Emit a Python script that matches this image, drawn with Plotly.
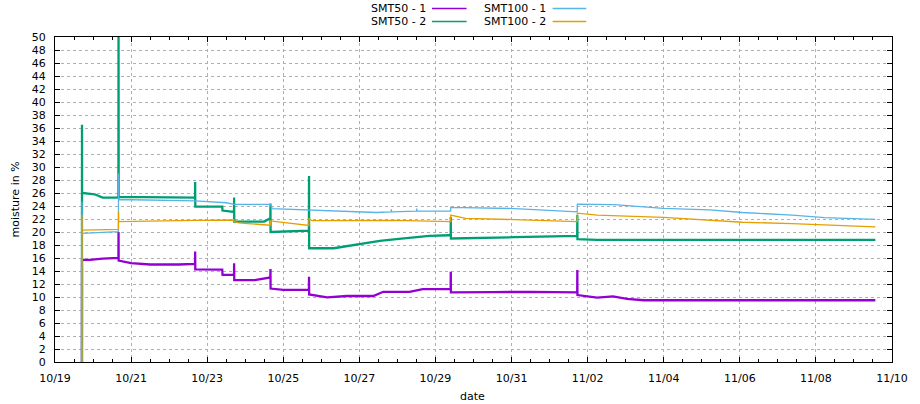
import plotly.graph_objects as go

Y = "2019-"

# SMT50 - 1 (purple)
smt50_1_t = ["10-19 17:00", "10-19 17:02", "10-19 22:00", "10-20 06:00", "10-20 16:00", "10-20 16:05", "10-20 16:10",
             "10-21 00:00", "10-21 12:00", "10-22 06:00", "10-22 16:20", "10-22 16:25", "10-22 16:30", "10-23 09:30",
             "10-23 09:40", "10-23 16:55", "10-23 17:00", "10-23 17:05", "10-24 06:00", "10-24 15:50", "10-24 15:55",
             "10-24 16:00", "10-25 00:00", "10-25 16:10", "10-25 16:15", "10-25 16:20", "10-26 03:40", "10-26 16:10",
             "10-27 08:50", "10-27 15:00", "10-28 07:40", "10-28 16:00", "10-29 09:35", "10-29 09:40", "10-29 09:45",
             "10-30 12:00", "10-31 12:00", "11-01 17:25", "11-01 17:30", "11-01 17:35", "11-02 06:00", "11-02 16:00",
             "11-03 00:50", "11-03 11:30", "11-09 13:30"]
smt50_1_v = [0, 15.7, 15.7, 15.9, 16.0, 20.0, 15.6,
             15.2, 15.0, 15.0, 15.1, 17.0, 14.25, 14.2,
             13.4, 13.4, 15.2, 12.6, 12.6, 13.0, 14.3,
             11.3, 11.1, 11.1, 13.1, 10.4, 9.95, 10.15,
             10.15, 10.8, 10.8, 11.2, 11.2, 13.9, 10.7,
             10.75, 10.8, 10.7, 14.15, 10.3, 9.9, 10.1,
             9.7, 9.5, 9.5]

# SMT50 - 2 (green)
smt50_2_t = ["10-19 17:00", "10-19 17:02", "10-19 17:05", "10-20 01:00", "10-20 06:00", "10-20 16:00", "10-20 16:05",
             "10-20 16:10", "10-22 16:20", "10-22 16:25", "10-22 16:30", "10-23 09:30", "10-23 09:40", "10-23 16:55",
             "10-23 17:00", "10-23 17:05", "10-24 12:00", "10-24 15:50", "10-24 15:55", "10-24 16:00", "10-25 16:10",
             "10-25 16:15", "10-25 16:20", "10-26 07:50", "10-26 16:10", "10-27 02:35", "10-27 12:55", "10-27 23:20",
             "10-28 20:10", "10-29 08:40", "10-29 09:35", "10-29 09:40", "10-29 09:45", "10-31 02:00", "11-01 17:25",
             "11-01 17:30", "11-01 17:35", "11-02 06:00", "11-09 13:30"]
smt50_2_v = [0, 36.5, 26.0, 25.8, 25.3, 25.3, 52,
             25.4, 25.3, 27.7, 23.9, 23.9, 23.3, 23.1,
             25.3, 21.6, 21.6, 22.1, 24.4, 20.0, 20.2,
             28.6, 17.5, 17.5, 17.85, 18.25, 18.65, 18.9,
             19.4, 19.5, 19.5, 22.3, 19.0, 19.2, 19.4,
             22.6, 18.9, 18.8, 18.8]

# SMT100 - 1 (blue)
smt100_1_t = ["10-19 17:00", "10-19 17:02", "10-19 17:05", "10-20 16:00", "10-20 16:05", "10-20 16:10", "10-22 16:25",
              "10-23 12:00", "10-23 17:00", "10-24 15:55", "10-24 17:00", "10-25 16:15", "10-26 16:10", "10-27 10:50",
              "10-27 20:00", "10-27 20:10", "10-27 20:20", "10-28 12:00", "10-28 12:10", "10-28 12:20", "10-29 09:35",
              "10-29 09:40", "10-29 10:00", "10-31 02:00", "11-01 17:25", "11-01 17:30", "11-02 16:40", "11-03 23:50",
              "11-05 05:10", "11-06 01:40", "11-07 09:00", "11-08 05:30", "11-09 13:30"]
smt100_1_v = [0, 24.7, 19.8, 20.05, 29.0, 25.0, 24.8,
              24.5, 24.25, 24.25, 23.6, 23.4, 23.2, 23.0,
              23.1, 23.5, 23.1, 23.2, 23.6, 23.2, 23.2,
              23.9, 23.8, 23.6, 23.1, 24.3, 24.2, 23.65,
              23.4, 23.0, 22.6, 22.2, 21.95]

# SMT100 - 2 (orange)
smt100_2_t = ["10-19 17:00", "10-19 17:02", "10-19 17:05", "10-20 16:00", "10-20 16:05", "10-20 16:10", "10-22 16:25",
              "10-23 16:55", "10-23 17:05", "10-23 20:00", "10-24 01:40", "10-24 15:50", "10-24 15:55", "10-25 09:00",
              "10-25 16:10", "10-25 16:15", "10-25 18:00", "10-27 23:00", "10-29 09:35", "10-29 09:40", "10-29 19:00",
              "10-31 02:00", "11-01 17:25", "11-01 17:30", "11-02 06:00", "11-03 23:50", "11-05 05:10", "11-06 01:40",
              "11-07 09:00", "11-08 05:30", "11-09 13:30"]
smt100_2_v = [0, 22.6, 20.3, 20.4, 23.1, 21.6, 21.8,
              21.85, 21.6, 21.4, 21.3, 21.05, 21.7, 21.2,
              21.0, 22.1, 21.75, 21.8, 21.6, 22.6, 22.1,
              21.9, 21.6, 22.9, 22.6, 22.25, 21.85, 21.5,
              21.3, 21.1, 20.8]

series_names = ["SMT50 - 1", "SMT50 - 2", "SMT100 - 1", "SMT100 - 2"]
series_colors = ["#9400d3", "#009e73", "#56b4e9", "#e69f00"]
series_widths = [2.3, 2.3, 1.3, 1.3]
series_data = [(smt50_1_t, smt50_1_v), (smt50_2_t, smt50_2_v),
               (smt100_1_t, smt100_1_v), (smt100_2_t, smt100_2_v)]

FONT = "DejaVu Sans"

fig = go.Figure()
for name, color, w, (t, v) in zip(series_names, series_colors, series_widths, series_data):
    fig.add_trace(go.Scatter(x=[Y + s for s in t], y=v, mode="lines", name=name,
                             line=dict(color=color, width=w), showlegend=False))

W, H = 920, 404
# plot area in pixels: x 55..901, y 37..362
L, R, T, B = 55, 901, 37, 362

def px(x):
    return (x - L) / (R - L)

def py(y):
    return (B - y) / (B - T)

# gnuplot-style legend (text then line sample)
legend_pos = [(432, 436, 471, 8.5), (432, 436, 471, 21.5), (553, 558, 592, 8.5), (553, 558, 592, 21.5)]
shapes = []
annotations = []
for name, color, (tx, lx0, lx1, ly) in zip(series_names, series_colors, legend_pos):
    annotations.append(dict(text=name, x=px(tx), y=py(ly), xref="paper", yref="paper",
                            xanchor="right", yanchor="middle", showarrow=False,
                            font=dict(family=FONT, size=11, color="#000")))
    shapes.append(dict(type="line", xref="paper", yref="paper", x0=px(lx0), x1=px(lx1),
                       y0=py(ly), y1=py(ly), line=dict(color=color, width=1.3)))

annotations.append(dict(text="moisture in %", x=px(15), y=py(199), xref="paper", yref="paper",
                        textangle=-90, showarrow=False, xanchor="center", yanchor="middle",
                        font=dict(family=FONT, size=11, color="#000")))
annotations.append(dict(text="date", x=px(477), y=py(396), xref="paper", yref="paper",
                        showarrow=False, xanchor="center", yanchor="middle",
                        font=dict(family=FONT, size=11, color="#000")))

fig.update_layout(
    width=W, height=H,
    margin=dict(l=L, r=W - R, t=T, b=H - B),
    plot_bgcolor="white", paper_bgcolor="white",
    font=dict(family=FONT, size=11, color="#000"),
    shapes=shapes, annotations=annotations,
    showlegend=False,
)
fig.update_xaxes(
    type="date", range=["2019-10-19", "2019-11-10"],
    tick0="2019-10-19", dtick=2 * 86400000, tickformat="%m/%d",
    ticks="inside", ticklen=5, tickcolor="#000",
    showline=True, linecolor="#000", linewidth=1, mirror="ticks",
    showgrid=True, gridcolor="#b0b0b0", griddash="dot", gridwidth=1,
    zeroline=False, ticklabelstandoff=6,
    minor=dict(dtick=43200000, ticks="inside", ticklen=3, tickcolor="#000", showgrid=False),
)
fig.update_yaxes(
    range=[0, 50], dtick=2, tick0=0,
    ticks="inside", ticklen=5, tickcolor="#000",
    showline=True, linecolor="#000", linewidth=1, mirror="ticks",
    showgrid=True, gridcolor="#b0b0b0", griddash="dot", gridwidth=1,
    zeroline=False, ticklabelstandoff=6,
)

fig.write_html("out.html", config={"displayModeBar": False},
               post_script="document.body.style.margin='0';")
